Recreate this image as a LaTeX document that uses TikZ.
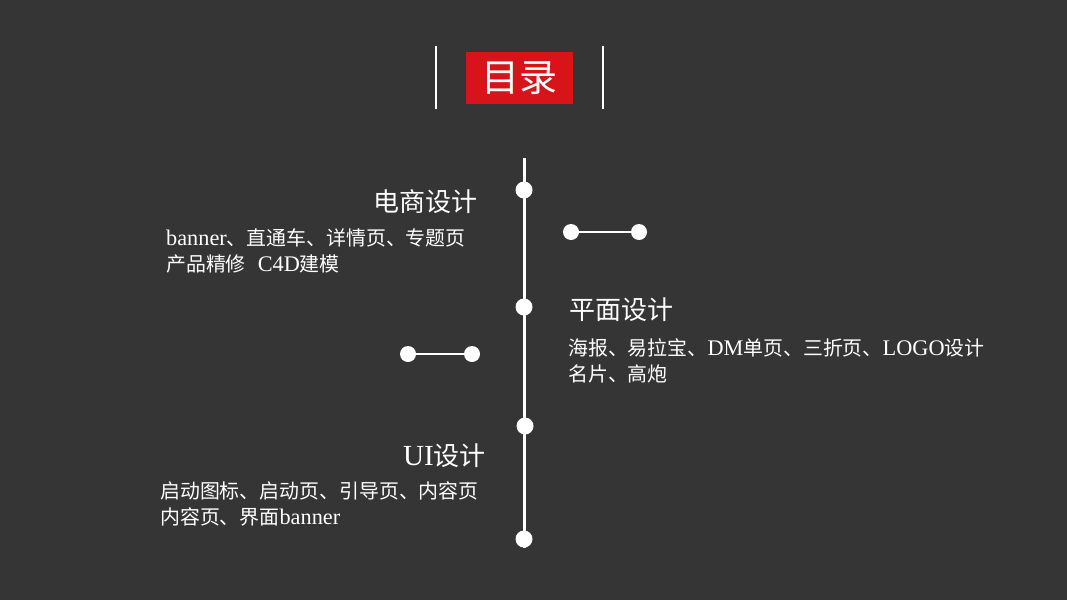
\documentclass[tikz,border=0pt]{standalone}
\usepackage{fontspec}
\setmainfont[Scale=1.12]{Liberation Serif}
\newfontfamily\cjk{Noto Sans CJK SC}
\newcommand{\C}[1]{{\cjk #1}}
\definecolor{bgc}{HTML}{353535}
\definecolor{redc}{HTML}{D7141A}
\tikzset{
  dot/.style={circle,fill=white,minimum size=17pt,inner sep=0pt},
  sdot/.style={circle,fill=white,minimum size=16pt,inner sep=0pt},
  head/.style={text=white,inner sep=0pt,font=\fontsize{26}{30}\selectfont},
  body/.style={text=white,inner sep=0pt,align=left,font=\fontsize{19.9}{26.5}\selectfont},
  wline/.style={white,line width=2pt}
}
\begin{document}
\begin{tikzpicture}[x=1pt,y=-1pt]
\fill[bgc] (0,0) rectangle (1067,600);
\useasboundingbox (0,0) rectangle (1067,600);
% title
\node[fill=redc,minimum width=107pt,minimum height=52pt,inner sep=0pt,text=white,font=\cjk\fontsize{38}{40}\selectfont] (title) at (519.5,78) {目录};
\coordinate (tl1) at (436,46); \coordinate (tl2) at (436,109);
\coordinate (tr1) at (603,46); \coordinate (tr2) at (603,109);
\draw[wline] (tl1) -- (tl2);
\draw[wline] (tr1) -- (tr2);
% timeline
\coordinate (top) at (524,158);
\coordinate (bot) at (524,548);
\draw[white,line width=3pt] (top) -- (bot);
\node[dot] (d1) at (524,190) {};
\node[dot] (d2) at (524,307) {};
\node[dot] (d3) at (525,426) {};
\node[dot] (d4) at (524,539) {};
% dumbbells
\node[sdot] (a1) at (571,232) {};
\node[sdot] (a2) at (639,232) {};
\draw[wline] (a1) -- (a2);
\node[sdot] (b1) at (408,354) {};
\node[sdot] (b2) at (472,354) {};
\draw[wline] (b1) -- (b2);
% texts
\node[head,anchor=east] (h1) at (478,202) {\C{电商设计}};
\node[body,anchor=west] (t1) at (166,251) {banner\C{、直通车、详情页、专题页}\\\C{产品精修}\hspace{12pt}C4D\C{建模}};
\node[head,anchor=west] (h2) at (569,310) {\C{平面设计}};
\node[body,anchor=west] (t2) at (568,361) {\C{海报、易拉宝、}DM\C{单页、三折页、}LOGO\C{设计}\\\C{名片、高炮}};
\node[head,anchor=east] (h3) at (486,456) {UI\C{设计}};
\node[body,anchor=west] (t3) at (160,504) {\C{启动图标、启动页、引导页、内容页}\\\C{内容页、界面}banner};
\end{tikzpicture}
\end{document}
